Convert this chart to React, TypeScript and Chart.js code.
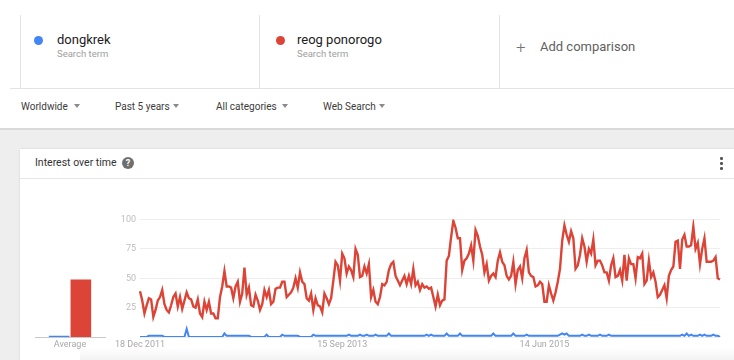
import React, { useEffect, useRef } from "react";
import { Chart, registerables } from "chart.js";

Chart.register(...registerables);

const RED = "#db4437";
const BLUE = "#4285f4";
const FONT = "Roboto, 'Noto Sans', sans-serif";

// x-axis tick labels and the week index where each sits
const tickLabels = ["18 Dec 2011", "15 Sep 2013", "14 Jun 2015"];
const tickIndices = [0, 91, 182];

// weekly interest, 262 weeks
const reogPonorogo = [
  39, 31, 20, 27, 33, 32, 17, 23, 31, 34,
  40, 28, 23, 21, 27, 34, 37, 26, 34, 24,
  31, 38, 33, 32, 26, 25, 32, 20, 17, 30,
  23, 30, 20, 20, 16, 16, 34, 43, 56, 43,
  43, 42, 33, 43, 47, 30, 37, 59, 36, 42,
  27, 26, 36, 31, 23, 28, 40, 34, 40, 28,
  30, 41, 42, 42, 47, 47, 34, 36, 38, 42,
  50, 42, 55, 47, 45, 33, 31, 37, 23, 33,
  27, 26,
  21, 37, 33, 28, 33, 48, 64, 61, 48, 71,
  67, 54, 60, 57, 51, 75, 70, 51, 52, 60,
  54, 62, 34, 40, 30, 28, 34, 45, 44, 47,
  57, 62, 64, 52, 48, 44, 48, 52, 45, 52,
  45, 58, 44, 47, 40, 45, 42, 43, 41, 42,
  34, 26, 36, 27, 31, 32, 65, 69, 85, 99,
  93, 84, 84, 57, 65, 67, 71, 78, 65, 91,
  86, 77, 70, 55, 62, 48, 52, 54, 51, 65,
  72, 64, 61, 52, 49, 52, 64, 45, 57, 60,
  50, 67, 74, 55, 52, 51, 43, 44, 47, 45,
  30, 30, 44, 37, 31, 38, 47, 58, 82, 95,
  87, 81, 90, 84, 58, 61, 70, 84, 77, 64,
  75, 71, 83, 61, 65, 65, 61, 55, 55, 48,
  61, 67, 51, 52, 57, 48, 70, 48, 67, 62,
  62, 50, 68, 67, 71, 45, 48, 65, 51, 55,
  47, 34, 36, 40, 44, 33, 52, 57, 60, 81,
  82, 58, 83, 87, 77, 77, 78, 94, 75, 80,
  62, 75, 84, 64, 64, 64, 65, 68, 50, 49,
];

const dongkrek = [
  0, 0, 0, 0, 1, 1, 1, 1, 1, 1, 1, 0, 0, 0, 0, 0, 0, 0, 0, 0,
  0, 7, 0, 0, 0, 0, 0, 0, 0, 0, 0, 0, 0, 0, 0, 0, 0, 0, 3, 1,
  1, 1, 1, 1, 1, 1, 1, 1, 1, 1, 0, 0, 0, 0, 0, 0, 0, 2, 0, 0,
  0, 0, 0, 0, 2, 1, 1, 1, 1, 1, 1, 1, 0, 0, 0, 0, 0, 0, 2, 1,
  1, 1, 1, 1, 1, 1, 1, 1, 1, 1, 1, 1, 1, 1, 2, 1, 1, 1, 1, 2,
  1, 1, 2, 1, 1, 1, 2, 1, 1, 1, 1, 1, 3, 1, 1, 1, 1, 1, 1, 1,
  1, 1, 1, 1, 1, 1, 1, 1, 1, 2, 1, 2, 1, 1, 1, 1, 1, 1, 3, 1,
  1, 1, 1, 1, 3, 1, 1, 1, 1, 1, 1, 1, 1, 1, 1, 1, 1, 1, 1, 3,
  1, 1, 1, 1, 1, 1, 1, 1, 3, 1, 1, 1, 1, 1, 2, 1, 1, 1, 1, 1,
  1, 1, 1, 1, 1, 1, 1, 1, 1, 2, 3, 2, 3, 1, 1, 1, 1, 1, 1, 2,
  1, 1, 2, 1, 1, 1, 1, 2, 1, 1, 1, 2, 1, 1, 1, 1, 1, 1, 1, 1,
  1, 1, 1, 1, 1, 1, 1, 1, 1, 1, 1, 1, 1, 1, 1, 1, 1, 1, 1, 1,
  1, 1, 1, 1, 2, 1, 3, 1, 2, 1, 1, 1, 2, 1, 2, 1, 1, 1, 2, 1,
  1, 0,
];

const averageCategories = ["Average"];
const averageDongkrek = [1];
const averageReog = [49];

const filters = ["Worldwide", "Past 5 years", "All categories", "Web Search"];

function TrendsLine() {
  const ref = useRef<HTMLCanvasElement | null>(null);
  useEffect(() => {
    if (!ref.current) return;
    const chart = new Chart(ref.current, {
      type: "line",
      data: {
        labels: reogPonorogo.map((_, i) => String(i)),
        datasets: [
          {
            label: "dongkrek",
            data: dongkrek,
            borderColor: BLUE,
            backgroundColor: BLUE,
            borderWidth: 2,
            pointRadius: 0,
            tension: 0,
            fill: false,
          },
          {
            label: "reog ponorogo",
            data: reogPonorogo,
            borderColor: RED,
            backgroundColor: RED,
            borderWidth: 2.4,
            pointRadius: 0,
            tension: 0,
            fill: false,
          },
        ],
      },
      options: {
        animation: false,
        responsive: false,
        maintainAspectRatio: false,
        layout: { padding: { top: 19.5, right: 10, left: 0, bottom: 0 } },
        plugins: { legend: { display: false }, tooltip: { enabled: false } },
        scales: {
          x: {
            grid: { display: false, drawTicks: false },
            border: { display: false },
            ticks: {
              autoSkip: false,
              maxRotation: 0,
              minRotation: 0,
              padding: 2,
              color: "#a8a8a8",
              font: { family: FONT, size: 9 },
              callback: (_v: any, i: number) => {
                const k = tickIndices.indexOf(i);
                return k >= 0 ? tickLabels[k] : "";
              },
            },
            afterFit: (s: any) => {
              s.height = 23;
            },
          },
          y: {
            min: 0,
            max: 100,
            ticks: {
              stepSize: 25,
              padding: 4,
              color: "#bdbdbd",
              font: { family: FONT, size: 9 },
              callback: (v: any) => (v === 0 ? "" : String(v)),
            },
            grid: { color: "#eeeeee", drawTicks: false, lineWidth: 1 },
            border: { display: false },
            afterFit: (s: any) => {
              s.width = 40;
            },
          },
        },
      },
    });
    return () => chart.destroy();
  }, []);
  return (
    <canvas
      ref={ref}
      width={630}
      height={160}
      style={{ position: "absolute", left: 100, top: 200, width: 630, height: 160 }}
    />
  );
}

function AverageBars() {
  const ref = useRef<HTMLCanvasElement | null>(null);
  useEffect(() => {
    if (!ref.current) return;
    const chart = new Chart(ref.current, {
      type: "bar",
      data: {
        labels: averageCategories,
        datasets: [
          {
            label: "dongkrek",
            data: averageDongkrek,
            backgroundColor: BLUE,
            categoryPercentage: 0.62,
            barPercentage: 0.95,
          },
          {
            label: "reog ponorogo",
            data: averageReog,
            backgroundColor: RED,
            categoryPercentage: 0.62,
            barPercentage: 0.95,
          },
        ],
      },
      options: {
        animation: false,
        responsive: false,
        maintainAspectRatio: false,
        layout: { padding: { top: 19.5, left: 5, right: 5, bottom: 0 } },
        plugins: { legend: { display: false }, tooltip: { enabled: false } },
        scales: {
          x: {
            grid: { display: false, drawTicks: false },
            border: { display: true, color: "#c8c8c8", width: 1 },
            ticks: {
              color: "#a8a8a8",
              padding: 2,
              maxRotation: 0,
              font: { family: FONT, size: 9 },
            },
            afterFit: (s: any) => {
              s.height = 23;
            },
          },
          y: { display: false, min: 0, max: 100 },
        },
      },
    });
    return () => chart.destroy();
  }, []);
  return (
    <canvas
      ref={ref}
      width={80}
      height={160}
      style={{ position: "absolute", left: 30, top: 200, width: 80, height: 160 }}
    />
  );
}

function Arrow({ left, top }: { left: number; top: number }) {
  return (
    <div
      style={{
        position: "absolute",
        left,
        top,
        width: 0,
        height: 0,
        borderLeft: "3px solid transparent",
        borderRight: "3px solid transparent",
        borderTop: "4px solid #8a8a8a",
      }}
    />
  );
}

export default function App() {
  const abs = (s: React.CSSProperties): React.CSSProperties => ({ position: "absolute", ...s });
  const filterLefts = [21, 115, 216, 323];
  const arrowLefts = [74, 173, 282, 379];
  return (
    <div
      style={{
        position: "fixed",
        left: 0,
        top: 0,
        width: 734,
        height: 360,
        overflow: "hidden",
        background: "#ffffff",
        fontFamily: FONT,
      }}
    >
      {/* term boxes */}
      <div style={abs({ left: 20, top: 15, width: 1, height: 73, background: "#e3e3e3" })} />
      <div style={abs({ left: 259, top: 15, width: 1, height: 73, background: "#e3e3e3" })} />
      <div style={abs({ left: 499, top: 15, width: 1, height: 73, background: "#e3e3e3" })} />
      <div style={abs({ left: 10, top: 88, width: 724, height: 1, background: "#e3e3e3" })} />

      <div style={abs({ left: 34, top: 36, width: 9, height: 9, borderRadius: "50%", background: BLUE })} />
      <div style={abs({ left: 57, top: 32, fontSize: 13, color: "#212121", lineHeight: "16px" })}>dongkrek</div>
      <div style={abs({ left: 57, top: 48, fontSize: 9.5, color: "#9e9e9e", lineHeight: "12px" })}>Search term</div>

      <div style={abs({ left: 276, top: 36, width: 9, height: 9, borderRadius: "50%", background: RED })} />
      <div style={abs({ left: 297, top: 32, fontSize: 13, color: "#212121", lineHeight: "16px" })}>reog ponorogo</div>
      <div style={abs({ left: 297, top: 48, fontSize: 9.5, color: "#9e9e9e", lineHeight: "12px" })}>Search term</div>

      <div style={abs({ left: 516, top: 37, fontSize: 17, color: "#757575", lineHeight: "20px", fontWeight: 300 })}>+</div>
      <div style={abs({ left: 540, top: 39, fontSize: 13, color: "#616161", lineHeight: "16px" })}>Add comparison</div>

      {/* filters */}
      {filters.map((f, i) => (
        <div key={f} style={abs({ left: filterLefts[i], top: 100, fontSize: 10, color: "#3c3c3c", lineHeight: "13px" })}>
          {f}
        </div>
      ))}
      {arrowLefts.map((l, i) => (
        <Arrow key={i} left={l} top={104} />
      ))}

      {/* grey area */}
      <div style={abs({ left: 0, top: 128, width: 734, height: 232, background: "#eeeeee" })} />
      <div style={abs({ left: 0, top: 128, width: 734, height: 2, background: "#d9d9d9" })} />

      {/* card */}
      <div
        style={abs({
          left: 20,
          top: 149,
          width: 714,
          height: 220,
          background: "#ffffff",
          boxShadow: "0 0 2px rgba(0,0,0,0.12)",
        })}
      />
      <div style={abs({ left: 35, top: 156, fontSize: 10.5, color: "#333333", lineHeight: "14px" })}>
        Interest over time
      </div>
      <div
        style={abs({
          left: 122,
          top: 157,
          width: 12,
          height: 12,
          borderRadius: "50%",
          background: "#6f6f6f",
          color: "#ffffff",
          fontSize: 9,
          fontWeight: 700,
          lineHeight: "12px",
          textAlign: "center",
        })}
      >
        ?
      </div>
      <div style={abs({ left: 720, top: 157, width: 2.5, height: 2.5, borderRadius: "50%", background: "#555" })} />
      <div style={abs({ left: 720, top: 162, width: 2.5, height: 2.5, borderRadius: "50%", background: "#555" })} />
      <div style={abs({ left: 720, top: 167, width: 2.5, height: 2.5, borderRadius: "50%", background: "#555" })} />
      <div style={abs({ left: 20, top: 178, width: 714, height: 1, background: "#e6e6e6" })} />

      <AverageBars />
      <TrendsLine />

      {/* faint shadow at the bottom */}
      <div
        style={abs({
          left: 80,
          top: 348,
          width: 654,
          height: 12,
          background: "linear-gradient(to bottom, rgba(0,0,0,0), rgba(0,0,0,0.05))",
        })}
      />
    </div>
  );
}
